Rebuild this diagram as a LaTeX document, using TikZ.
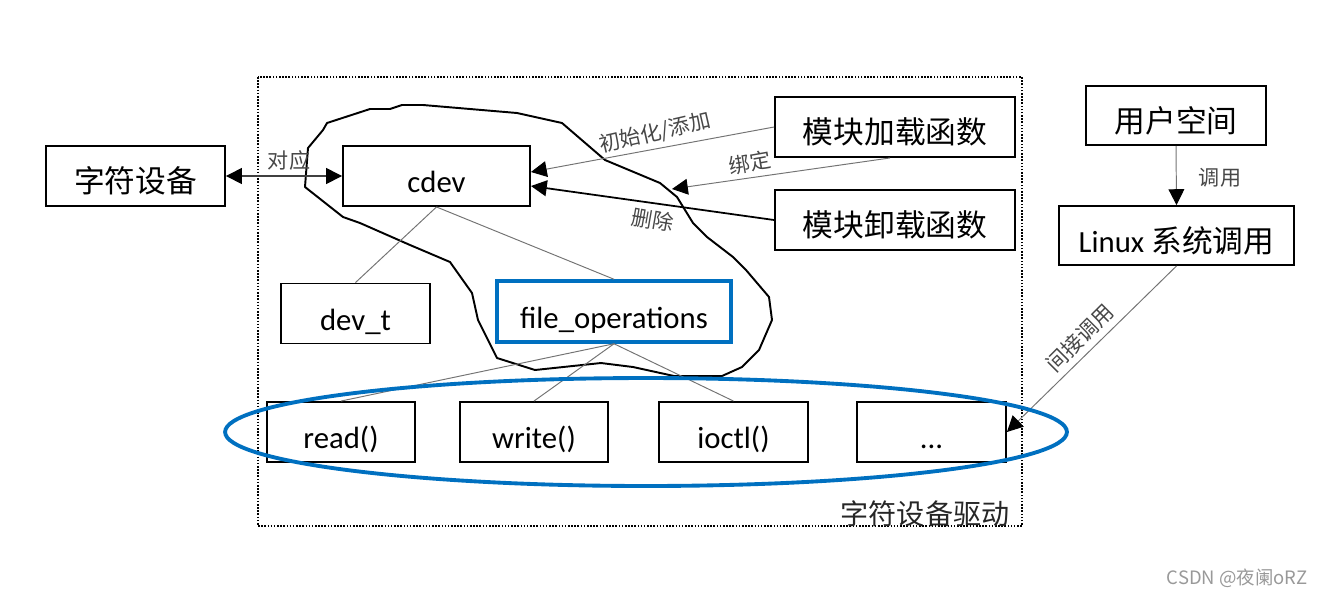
\documentclass[tikz,border=0pt]{standalone}
\usepackage{fontspec}
\setmainfont{Carlito}
\newfontfamily\cjk{Noto Sans CJK SC}
\usetikzlibrary{arrows.meta,calc}
\definecolor{wordblue}{RGB}{0,112,192}
\newcommand{\bigsz}{\fontsize{17.5pt}{21pt}\selectfont}
\begin{document}
\begin{tikzpicture}[x=0.02cm,y=-0.02cm,
  box/.style={draw, line width=1.1pt, inner sep=0pt, minimum height=1.2cm, text height=20pt, text depth=1pt},
  lat/.style={font=\bigsz},
  zh/.style={font=\bigsz\cjk},
  lbl/.style={font=\cjk\fontsize{12pt}{14pt}\selectfont, text=black!72, inner sep=1pt},
  thin/.style={draw=black!55, line width=0.55pt},
  tipA/.style={-{Triangle[length=9pt,width=9pt,color=black]}},
  dtip/.style={{Triangle[length=9pt,width=9pt,color=black]}-{Triangle[length=9pt,width=9pt,color=black]}},
  dotbox/.style={draw=black, line width=0.75pt, dash pattern=on 0.9pt off 0.9pt},
  blob/.style={draw=black, line width=1.1pt, line join=round},
  bluebox/.style={draw=wordblue, line width=2pt, inner sep=0pt, minimum height=1.22cm, text height=20pt, text depth=1pt},
  ring/.style={draw=wordblue, line width=2.2pt}]
\useasboundingbox (0,0) rectangle (1325,596);

% driver frame
\draw[dotbox] (258,77) rectangle (1022,526);

% irregular outline around cdev / file_operations
\draw[blob] (327,123) -- (370,109) -- (390,109) -- (402,105) -- (423,105) -- (517,113)
  -- (562,123) -- (605,160) -- (660,183) -- (677,197) -- (693,223) -- (707,237)
  -- (733,257) -- (746,270) -- (769,297) -- (772,320) -- (759,350) -- (742,367)
  -- (722,376) -- (674,376) -- (633,367) -- (601,363) -- (535,370) -- (497,358)
  -- (478,320) -- (472,293) -- (450,262) -- (410,245) -- (360,223) -- (343,217)
  -- (305,187) -- (308,148) -- (323,130) -- cycle;

% boxes
\node[box, zh, minimum width=3.58cm] (chardev) at (135.5,176) {字符设备};
\node[box, lat, minimum width=3.74cm] (cdev) at (436.5,176) {cdev};
\node[box, zh, minimum width=4.8cm] (load) at (895,127) {模块加载函数};
\node[box, zh, minimum width=4.8cm] (unload) at (895,220) {模块卸载函数};
\node[box, zh, minimum width=3.6cm, minimum height=1.18cm] (user) at (1176,115.5) {用户空间};
\node[box, lat, minimum width=4.7cm, minimum height=1.18cm] (linux) at (1176.5,235.5) {Linux {\cjk 系统调用}};
\node[box, lat, minimum width=2.98cm] (devt) at (355.5,313.5) {dev\_t};
\node[bluebox, lat, minimum width=4.68cm] (fops) at (614,311.5) {file\_operations};
\node[box, lat, minimum width=2.96cm] (read) at (341,432) {read()};
\node[box, lat, minimum width=2.96cm] (write) at (534,432) {write()};
\node[box, lat, minimum width=2.98cm] (ioctl) at (733.5,432) {ioctl()};
\node[box, lat, minimum width=2.98cm] (dots) at (931.5,432) {...};

% tree lines
\draw[thin] (cdev.south) -- (devt.north);
\draw[thin] (cdev.south) -- (fops.north);
\draw[thin] (fops.south) -- (read.north);
\draw[thin] (fops.south) -- (write.north);
\draw[thin] (fops.south) -- (ioctl.north);

% arrows
\draw[line width=0.8pt, draw=black!75, dtip] (chardev.east) -- (cdev.west);
\draw[thin, tipA] (load.west) -- ($(cdev.east)+(0,-4)$);
\coordinate (bindend) at (672,189);
\draw[thin, tipA] ($(load.south)+(-5,0)$) -- (bindend);
\draw[line width=1pt, tipA] (unload.west) -- ($(cdev.east)+(0,10)$);
\draw[thin, tipA] (user.south) -- (linux.north);
\draw[thin, tipA] (linux.south) -- (dots.east);

% labels
\node[lbl] (lblcorr) at (289,160) {对应};
\node[lbl, rotate=13] (lblinit) at (655,133) {初始化/添加};
\node[lbl, rotate=10] (lblbind) at (750,163) {绑定};
\node[lbl, rotate=-10] (lbldel) at (653,220) {删除};
\node[lbl] (lblcall) at (1220,178) {调用};
\node[lbl, rotate=45] (lblind) at (1080,338) {间接调用};
\node[font=\cjk\fontsize{16pt}{19pt}\selectfont, text=black!85] (drv) at (925,514) {字符设备驱动};
\node[font=\cjk\fontsize{10.5pt}{12pt}\selectfont, text=black!40] (wm) at (1237,578) {CSDN @夜阑oRZ};

% blue ring around the operations
\draw[ring] (646,432) ellipse [x radius=8.42cm, y radius=1.08cm];
\end{tikzpicture}
\end{document}
